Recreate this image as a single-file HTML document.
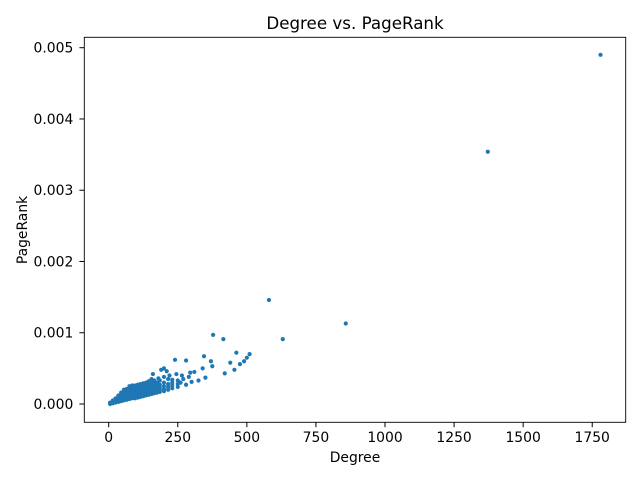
<!DOCTYPE html>
<html><head><meta charset="utf-8"><style>
body{margin:0;background:#fff}
svg{display:block;font-family:"DejaVu Sans","Liberation Sans",sans-serif}
</style></head><body>
<svg id="chart" width="640" height="480">
<rect x="0" y="0" width="640" height="480" fill="#fff"/>
<text x="355" y="29" text-anchor="middle" font-size="16.7">Degree vs. PageRank</text>
<text x="355" y="462" text-anchor="middle" font-size="13.9">Degree</text>
<text x="27" y="230" text-anchor="middle" font-size="13.9" transform="rotate(-90 27 230)">PageRank</text>
<g id="marks"></g>
<g id="axes"></g>
</svg>
<script>
const degrees = [5,5,15,15,15,25,25,25,35,35,35,35,45,45,45,45,45,55,55,55,55,55,55,65,65,65,65,65,65,75,75,75,75,75,75,75,85,85,85,85,85,85,85,95,95,95,95,95,95,95,105,105,105,105,105,105,105,115,115,115,115,115,115,115,125,125,125,125,125,125,125,135,135,135,135,135,135,135,145,145,145,145,145,145,145,155,155,155,155,155,155,155,165,165,165,165,165,165,175,175,175,175,175,185,185,185,185,185,200,200,200,200,215,215,215,215,230,230,230,250,250,250,
1780,1372,580,858,630,378,415,462,510,500,490,475,455,440,420,370,375,345,340,350,325,310,295,280,240,290,265,270,245,200,210,190,220,160,200,180,300,230,260,280];
const pageranks = [0,0.00002,0.00001,0.00003,0.00005,0.00002,0.00005,0.00008,0.00003,0.00006,0.00009,0.00012,0.00004,0.00007,0.0001,0.00013,0.00016,0.00005,0.00008,0.00011,0.00014,0.00017,0.0002,0.00006,0.00009,0.00012,0.00015,0.00018,0.00021,0.00007,0.0001,0.00013,0.00016,0.00019,0.00022,0.00025,0.00008,0.00011,0.00014,0.00017,0.0002,0.00023,0.00026,0.00008,0.00011,0.00014,0.00017,0.0002,0.00023,0.00026,0.00009,0.00012,0.00015,0.00018,0.00021,0.00024,0.00027,0.0001,0.00013,0.00016,0.00019,0.00022,0.00025,0.00028,0.00011,0.00014,0.00017,0.0002,0.00023,0.00026,0.00029,0.00012,0.00015,0.00018,0.00021,0.00024,0.00027,0.0003,0.00013,0.00016,0.00019,0.00022,0.00025,0.00028,0.00032,0.00014,0.00017,0.0002,0.00023,0.00026,0.0003,0.00035,0.00015,0.00018,0.00021,0.00024,0.00028,0.00033,0.00016,0.00019,0.00022,0.00026,0.0003,0.00017,0.0002,0.00023,0.00027,0.00033,0.00018,0.00021,0.00025,0.0003,0.0002,0.00024,0.00028,0.00035,0.00022,0.00026,0.0003,0.00024,0.00028,0.00033,
0.0049,0.00354,0.00146,0.00113,0.00091,0.00097,0.00091,0.00072,0.0007,0.00065,0.0006,0.00056,0.00048,0.00058,0.00043,0.0006,0.00053,0.00067,0.0005,0.00037,0.00033,0.00045,0.00044,0.00061,0.00062,0.00038,0.0004,0.00035,0.00042,0.0005,0.00046,0.00048,0.0004,0.00042,0.00038,0.00036,0.00031,0.00034,0.0003,0.00027];
const xTicks = [0,250,500,750,1000,1250,1500,1750];
const yTicks = [0,0.001,0.002,0.003,0.004,0.005];
const yTickLabels = ["0.000","0.001","0.002","0.003","0.004","0.005"];

const NS="http://www.w3.org/2000/svg";
const L=84.3,R=625.7,T=37.3,B=422.3;
function xs(v){return 108.7+v*0.2763;}
function ys(v){return 404-v*71260;}
const marks=document.getElementById('marks');
for(let i=0;i<degrees.length;i++){
  const c=document.createElementNS(NS,'circle');
  c.setAttribute('cx',xs(degrees[i]));c.setAttribute('cy',ys(pageranks[i]));
  c.setAttribute('r',2.1);c.setAttribute('fill','#1f77b4');
  
  
  marks.appendChild(c);
}
const ax=document.getElementById('axes');
const fr=document.createElementNS(NS,'rect');
fr.setAttribute('x',L);fr.setAttribute('y',T);fr.setAttribute('width',R-L);fr.setAttribute('height',B-T);
fr.setAttribute('fill','none');fr.setAttribute('stroke','#000');fr.setAttribute('stroke-width','0.9');


ax.appendChild(fr);
xTicks.forEach(t=>{
  const x=xs(t);
  const l=document.createElementNS(NS,'line');
  l.setAttribute('x1',x);l.setAttribute('x2',x);l.setAttribute('y1',B);l.setAttribute('y2',B+4.9);l.setAttribute('stroke','#000');
  
  
  ax.appendChild(l);
  const tx=document.createElementNS(NS,'text');
  tx.setAttribute('x',x);tx.setAttribute('y',B+19.5);tx.setAttribute('text-anchor','middle');tx.setAttribute('font-size','13.9');
  tx.textContent=t;
  
  
  ax.appendChild(tx);
});
yTicks.forEach((t,i)=>{
  const y=ys(t);
  const l=document.createElementNS(NS,'line');
  l.setAttribute('x1',L-4.9);l.setAttribute('x2',L);l.setAttribute('y1',y);l.setAttribute('y2',y);l.setAttribute('stroke','#000');
  
  
  ax.appendChild(l);
  const tx=document.createElementNS(NS,'text');
  tx.setAttribute('x',L-11);tx.setAttribute('y',y+5);tx.setAttribute('text-anchor','end');tx.setAttribute('font-size','13.9');
  tx.textContent=yTickLabels[i];
  
  
  ax.appendChild(tx);
});
</script>
</body></html>
